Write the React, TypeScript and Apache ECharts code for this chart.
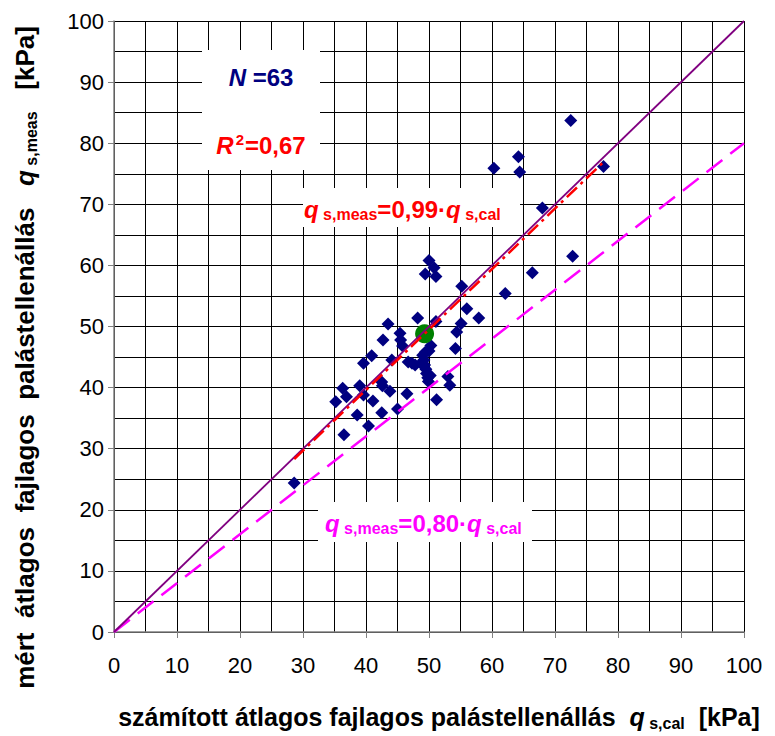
import React, { useEffect, useRef } from 'react';
import * as echarts from 'echarts';

// Calculated (x) and measured (y) average unit shaft resistance, kPa
const calValues = [
  72.5, 64.2, 64.4, 60.3, 77.7, 68.0, 72.8, 66.4, 62.1, 50.0,
  50.8, 49.4, 51.1, 55.2, 56.0, 57.9, 55.1, 48.2, 51.1, 54.4,
  54.2, 45.4, 50.3, 45.8, 49.0, 49.3, 49.6, 49.9, 47.8, 46.7,
  44.1, 40.9, 39.6, 43.5, 42.7, 53.0, 53.3, 51.2, 42.5, 36.3,
  39.0, 35.2, 36.9, 39.6, 41.1, 43.8, 46.5, 38.6, 42.5, 45.0,
  40.4, 36.5, 28.6, 49.2, 49.5, 49.8, 48.7, 50.2, 47.3, 45.5,
  49.4, 50.0, 42.6,
];
const measValues = [
  83.7, 77.8, 75.3, 75.9, 76.2, 69.4, 61.5, 58.8, 55.4, 60.8,
  59.6, 58.6, 58.2, 56.6, 52.9, 51.4, 50.5, 51.4, 50.8, 49.1,
  46.4, 48.9, 46.9, 46.8, 45.3, 43.7, 42.3, 41.0, 43.7, 44.2,
  44.5, 45.2, 44.0, 50.4, 47.8, 41.8, 40.4, 38.0, 40.9, 39.9,
  40.3, 37.7, 38.5, 38.8, 37.8, 39.4, 39.0, 35.5, 35.9, 36.5,
  33.7, 32.3, 24.4, 44.5, 43.0, 41.6, 44.0, 42.0, 44.0, 47.8,
  45.8, 46.0, 40.3,
];

// Mean point of the data set
const meanPoint = [49.3, 48.8];

// Regression and reference lines
const fitSlope = 0.99;
const fitRange = [28.6, 77.7];
const lowerSlope = 0.8;
const lineRange = [0, 100];

const axisMin = 0;
const axisMax = 100;
const axisStep = 10;

const FONT = '"Liberation Sans", Arial, Helvetica, sans-serif';

function axisNameRich(size: number) {
  return {
    t: { fontFamily: FONT, fontSize: size, fontWeight: 'bold', color: '#000', lineHeight: 28 },
    qi: { fontFamily: FONT, fontSize: size, fontWeight: 'bold', fontStyle: 'italic', color: '#000', lineHeight: 28 },
    sub: { fontFamily: FONT, fontSize: 16, fontWeight: 'bold', color: '#000', lineHeight: 15, verticalAlign: 'bottom' },
  };
}

function eqRich(fill: string) {
  return {
    b: { fontFamily: FONT, fontSize: 24, fontWeight: 'bold', fill, lineHeight: 26 },
    qi: { fontFamily: FONT, fontSize: 24, fontWeight: 'bold', fontStyle: 'italic', fill, lineHeight: 26 },
    sub: { fontFamily: FONT, fontSize: 16, fontWeight: 'bold', fill, lineHeight: 14, verticalAlign: 'bottom' },
    sup: { fontFamily: FONT, fontSize: 15, fontWeight: 'bold', fill, lineHeight: 11, verticalAlign: 'top', padding: [0, 1, 0, 2] },
  };
}

export default function App() {
  const ref = useRef<HTMLDivElement>(null);

  useEffect(() => {
    if (!ref.current) return;
    const chart = echarts.init(ref.current, null, { renderer: 'svg' });

    const points = calValues.map((x, i) => [x, measValues[i]]);
    const fitLine = fitRange.map((x) => [x, fitSlope * x]);
    const lowerLine = lineRange.map((x) => [x, lowerSlope * x]);
    const equalLine = lineRange.map((x) => [x, x]);

    const axisCommon = {
      type: 'value',
      min: axisMin,
      max: axisMax,
      interval: axisStep,
      axisLine: { show: true, onZero: false, lineStyle: { color: '#808080', width: 1.5 } },
      axisTick: { show: true, length: 6, lineStyle: { color: '#808080', width: 1 } },
      splitLine: { show: true, lineStyle: { color: '#000', width: 1 } },
      minorTick: { show: false, splitNumber: 2 },
      minorSplitLine: { show: true, lineStyle: { color: '#000', width: 1 } },
    };

    chart.setOption({
      animation: false,
      backgroundColor: '#fff',
      grid: { left: 114, top: 21, right: 31, bottom: 98, containLabel: false },
      xAxis: {
        ...axisCommon,
        axisLabel: { margin: 22, fontSize: 22, color: '#000', fontFamily: FONT },
        name: '{t|számított átlagos fajlagos palástellenállás  }{qi|q}{sub| s,cal}{t|  [kPa]}',
        nameLocation: 'middle',
        nameGap: 71,
        nameTextStyle: { rich: axisNameRich(25), padding: [0, 0, 0, 20] },
      },
      yAxis: {
        ...axisCommon,
        axisLabel: { margin: 10, fontSize: 22, color: '#000', fontFamily: FONT },
        name: '{t|mért  átlagos  fajlagos  palástellenállás   }{qi|q}{sub| s,meas}{t|   [kPa]}',
        nameLocation: 'middle',
        nameRotate: 90,
        nameGap: 75,
        nameTextStyle: { rich: axisNameRich(26), padding: [0, 62, 0, 0] },
      },
      series: [
        {
          type: 'scatter',
          data: points,
          symbol: 'diamond',
          symbolSize: 13,
          itemStyle: { color: '#000080', opacity: 1 },
          z: 2,
        },
        {
          type: 'scatter',
          data: [meanPoint],
          symbol: 'circle',
          symbolSize: 19,
          itemStyle: { color: '#008000', opacity: 1 },
          z: 3,
        },
        {
          type: 'line',
          data: lowerLine,
          showSymbol: false,
          symbol: 'none',
          lineStyle: { color: '#FF00FF', width: 2.5, type: [20, 10] },
          z: 4,
        },
        {
          type: 'line',
          data: equalLine,
          showSymbol: false,
          symbol: 'none',
          lineStyle: { color: '#800080', width: 1.8, type: 'solid' },
          z: 4,
        },
        {
          type: 'line',
          data: fitLine,
          showSymbol: false,
          symbol: 'none',
          lineStyle: { color: '#FF0000', width: 2.5, type: [14, 5, 3, 5] },
          z: 5,
        },
      ],
      graphic: [
        { type: 'rect', shape: { x: 202, y: 50, width: 118, height: 120 }, style: { fill: '#fff' }, z: 10 },
        { type: 'rect', shape: { x: 303, y: 188, width: 217, height: 39 }, style: { fill: '#fff' }, z: 10 },
        { type: 'rect', shape: { x: 318, y: 502, width: 214, height: 40 }, style: { fill: '#fff' }, z: 10 },
        {
          type: 'text', x: 261, y: 77, z: 11,
          style: { text: '{qi|N}{b| =63}', rich: eqRich('#000080'), align: 'center', verticalAlign: 'middle' },
        },
        {
          type: 'text', x: 261, y: 145, z: 11,
          style: { text: '{qi|R}{sup|2}{b|=0,67}', rich: eqRich('#FF0000'), align: 'center', verticalAlign: 'middle' },
        },
        {
          type: 'text', x: 304, y: 209, z: 11,
          style: { text: '{qi|q}{sub| s,meas}{b|=0,99·}{qi|q}{sub| s,cal}', rich: eqRich('#FF0000'), align: 'left', verticalAlign: 'middle' },
        },
        {
          type: 'text', x: 325, y: 523, z: 11,
          style: { text: '{qi|q}{sub| s,meas}{b|=0,80·}{qi|q}{sub| s,cal}', rich: eqRich('#FF00FF'), align: 'left', verticalAlign: 'middle' },
        },
      ],
    });

    return () => chart.dispose();
  }, []);

  return (
    <div
      ref={ref}
      style={{ position: 'absolute', left: 0, top: 0, width: 775, height: 736 }}
    />
  );
}
